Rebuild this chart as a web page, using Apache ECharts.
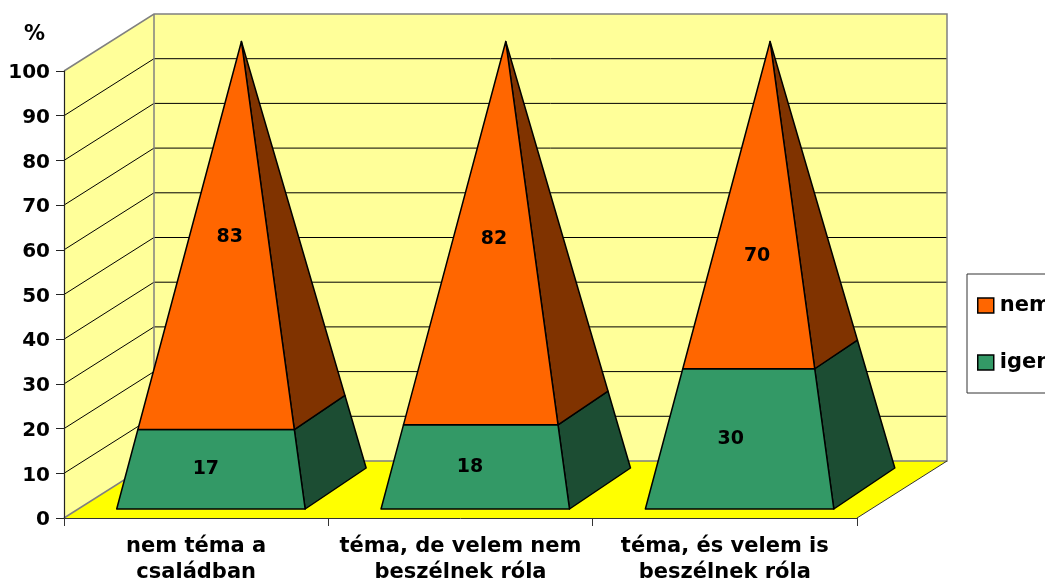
<!DOCTYPE html>
<html><head><meta charset="utf-8">
<style>html,body{margin:0;padding:0;background:#fff;overflow:hidden;width:1045px;height:580px}#c{width:1120px;height:580px}</style>
<script src="https://cdn.jsdelivr.net/npm/echarts@6/dist/echarts.min.js"></script>
</head><body><div id="c"></div>
<script>
const categories = ['nem téma a\ncsaládban', 'téma, de velem nem\nbeszélnek róla', 'téma, és velem is\nbeszélnek róla'];
const igen = [17, 18, 30];
const nem = [83, 82, 70];
const yTicks = [0, 10, 20, 30, 40, 50, 60, 70, 80, 90, 100];

const FONT = '"DejaVu Sans"';
const depth = [90, -57];
const front = [14.75, -9], back = [75.75, -50], mid = [45.25, -29.5];
const baseShare = 0.3565;
const frontStroke = '#000';

function lerp(a, b, t) { return a + (b - a) * t; }
function corner(api, cat, value, offset, side) {
  const halfW = api.size([1, 0])[0] * baseShare;
  const c = api.coord([cat, value]);
  const t = value / 100;
  return [lerp(c[0] + side * halfW + offset[0], c[0] + mid[0], t),
          c[1] + lerp(offset[1], mid[1], t)];
}
function poly(points, fill) {
  return { type: 'polygon', shape: { points }, style: { fill, stroke: frontStroke, lineWidth: 1.5, lineJoin: 'round' } };
}
function segment(faceColor, sideColor, isBase) {
  return function (params, api) {
    const cat = api.value(0), lo = api.value(1), hi = api.value(2);
    const fl = corner(api, cat, lo, front, -1), fr = corner(api, cat, lo, front, 1);
    const br = corner(api, cat, lo, back, 1);
    const tl = corner(api, cat, hi, front, -1), tr = corner(api, cat, hi, front, 1);
    const tb = corner(api, cat, hi, back, 1);
    // label anchor: middle of the front face, with the drift seen in the reference
    const anchorV = isBase ? (lo + hi) / 2 : (lo + hi) / 2 - 0.4 - 0.8 * (lo - 17);
    const lc = corner(api, cat, anchorV, front, 0);
    const shift = isBase ? -0.45 * (hi - lo) : 1;
    return {
      type: 'group',
      children: [
        poly([fr, br, tb, tr], sideColor),
        poly([fl, fr, tr, tl], faceColor),
        { type: 'text', z2: 5, style: { text: String(hi - lo), x: lc[0] + shift, y: lc[1], align: 'center', verticalAlign: 'middle',
            font: 'bold 19px ' + FONT, fill: '#000' } }
      ]
    };
  };
}
function walls(params, api) {
  const g = params.coordSys;
  const x0 = g.x, x1 = g.x + g.width, yT = g.y, yB = g.y + g.height;
  const dx = depth[0], dy = depth[1];
  const grey = { stroke: '#808080', lineWidth: 1.5 };
  const children = [
    { type: 'polygon', shape: { points: [[x0, yT], [x0 + dx, yT + dy], [x0 + dx, yB + dy], [x0, yB]] }, style: { fill: '#FFFF99' } },
    { type: 'polygon', shape: { points: [[x0 + dx, yT + dy], [x1 + dx, yT + dy], [x1 + dx, yB + dy], [x0 + dx, yB + dy]] }, style: { fill: '#FFFF99' } },
    { type: 'polygon', shape: { points: [[x0, yB], [x1, yB], [x1 + dx, yB + dy], [x0 + dx, yB + dy]] }, style: { fill: '#FFFF00' } }
  ];
  yTicks.slice(1, -1).forEach(v => {
    const y = api.coord([0, v])[1];
    children.push({ type: 'polyline', shape: { points: [[x0, y], [x0 + dx, y + dy], [x1 + dx, y + dy]] }, style: { stroke: '#000', lineWidth: 1, fill: null } });
  });
  children.push({ type: 'polyline', shape: { points: [[x0, yT], [x0 + dx, yT + dy], [x1 + dx, yT + dy], [x1 + dx, yB + dy], [x0 + dx, yB + dy], [x0, yB]] }, style: Object.assign({ fill: null }, grey) });
  children.push({ type: 'line', shape: { x1: x0 + dx, y1: yT + dy, x2: x0 + dx, y2: yB + dy }, style: grey });
  children.push({ type: 'line', shape: { x1: x1 + dx, y1: yB + dy, x2: x1, y2: yB }, style: { stroke: '#333', lineWidth: 1 } });
  return { type: 'group', children };
}

const chart = echarts.init(document.getElementById('c'), null, { renderer: 'canvas' });
chart.setOption({
  animation: false,
  backgroundColor: '#fff',
  grid: { left: 64, top: 71, width: 793, height: 447, containLabel: false, outerBoundsMode: 'none' },
  legend: {
    left: 967, top: 274, orient: 'vertical', padding: [21, 10, 20, 10], itemGap: 36,
    itemWidth: 16, itemHeight: 15, itemStyle: { borderColor: '#000', borderWidth: 1.5 },
    backgroundColor: '#fff', borderColor: '#333', borderWidth: 1, borderRadius: 0,
    textStyle: { fontFamily: FONT, fontWeight: 'bold', fontSize: 21, color: '#000', padding: [0, 0, 0, 1] },
    selectedMode: false,
    data: [{ name: 'nem', icon: 'rect' }, { name: 'igen', icon: 'rect' }]
  },
  xAxis: {
    type: 'category', data: categories, boundaryGap: true, z: 3,
    axisLine: { show: true, lineStyle: { color: '#333', width: 1 } },
    axisTick: { show: true, alignWithLabel: false, length: 8, lineStyle: { color: '#333' } },
    axisLabel: { interval: 0, margin: 16, fontFamily: FONT, fontWeight: 'bold', fontSize: 21, lineHeight: 26, color: '#000' }
  },
  yAxis: {
    type: 'value', min: 0, max: 100, interval: 10, z: 3,
    name: '%', nameLocation: 'end', nameGap: 26,
    nameTextStyle: { fontFamily: FONT, fontWeight: 'bold', fontSize: 21, color: '#000', align: 'right', padding: [0, 19, 0, 0] },
    axisLine: { show: true, lineStyle: { color: '#222', width: 1.2 } },
    axisTick: { show: true, length: 8, lineStyle: { color: '#222' } },
    axisLabel: { margin: 14, formatter: '{v|{value}}',
      rich: { v: { fontFamily: FONT, fontWeight: 'bold', fontSize: 20, color: '#000', padding: [4, 0, 0, 0] } } },
    splitLine: { show: false }
  },
  series: [
    { type: 'custom', name: 'walls', z: 1, silent: true, clip: false, renderItem: walls, data: [0], encode: { x: 0 } },
    { type: 'custom', name: 'igen', z: 4, clip: false, itemStyle: { color: '#339966' },
      renderItem: segment('#339966', '#1C4D33', true),
      encode: { x: 0, y: 2 },
      data: igen.map((v, i) => [i, 0, v]) },
    { type: 'custom', name: 'nem', z: 5, clip: false, itemStyle: { color: '#FF6600' },
      renderItem: segment('#FF6600', '#803300', false),
      encode: { x: 0, y: 2 },
      data: nem.map((v, i) => [i, igen[i], igen[i] + v]) }
  ]
});
</script></body></html>
